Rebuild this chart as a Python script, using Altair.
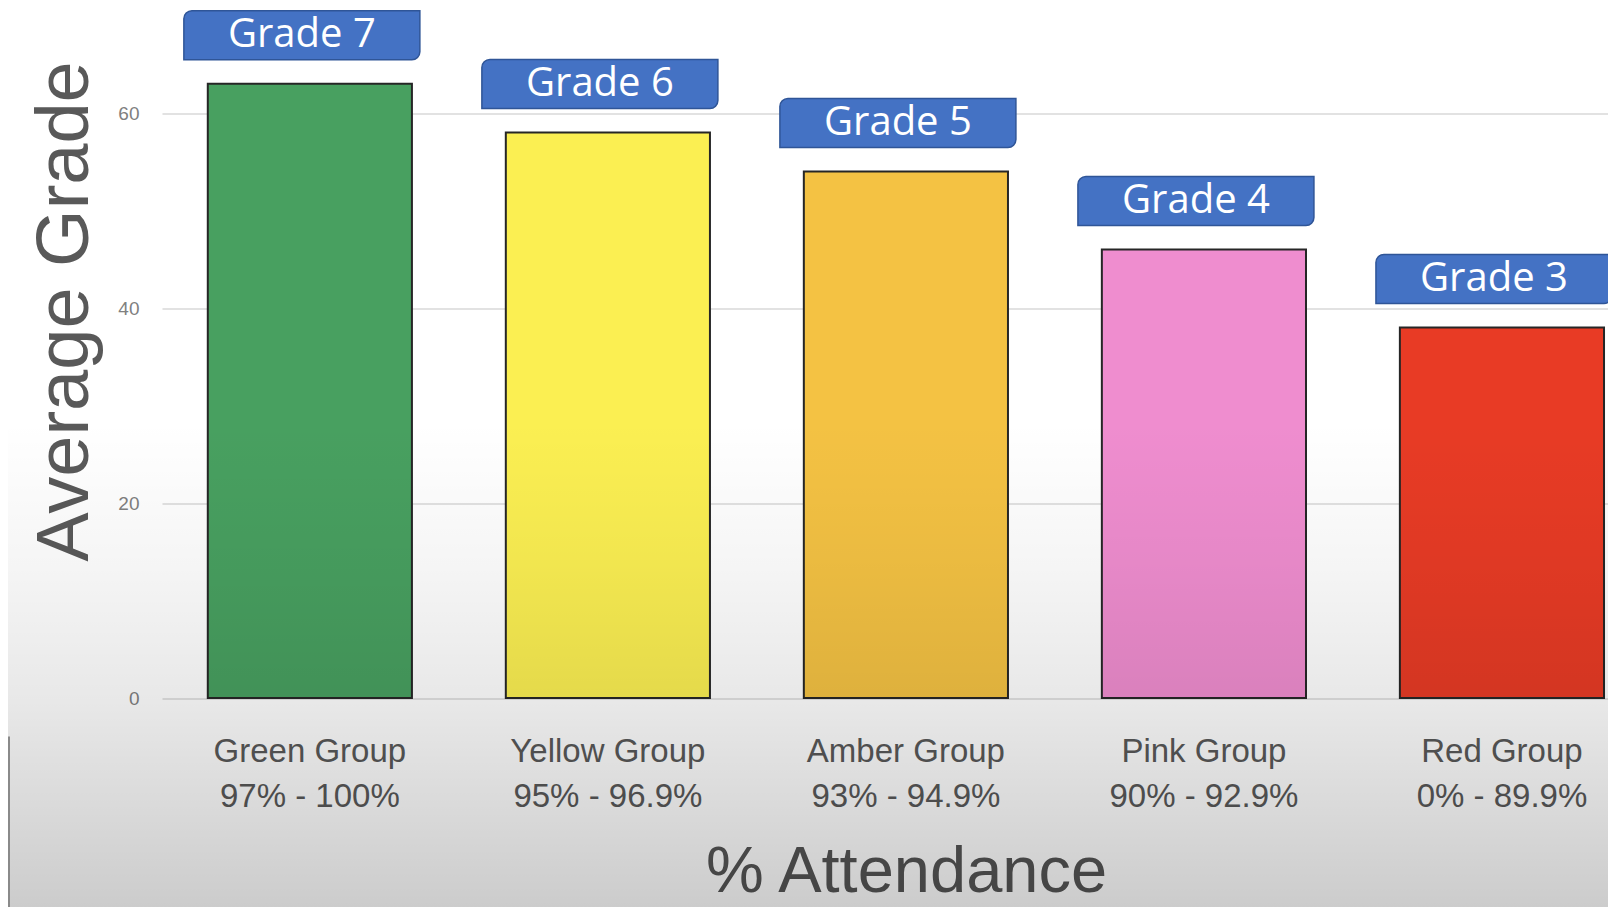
import altair as alt
import pandas as pd

groups = ["Green Group", "Yellow Group", "Amber Group", "Pink Group", "Red Group"]
ranges = ["97% - 100%", "95% - 96.9%", "93% - 94.9%", "90% - 92.9%", "0% - 89.9%"]
avg_grade = [63, 58, 54, 46, 38]
grade_labels = ["Grade 7", "Grade 6", "Grade 5", "Grade 4", "Grade 3"]
bar_colors = ["#48A060", "#FBEF52", "#F4C243", "#EF8DCF", "#E83B25"]
y_ticks = [0, 20, 40, 60]

cats = [g + "\n" + r for g, r in zip(groups, ranges)]
df = pd.DataFrame({"cat": cats, "value": avg_grade, "grade": grade_labels})

SANS = "Liberation Sans, Arial, sans-serif"
W, H = 1446, 682.5

x_enc = alt.X(
    "cat:N",
    sort=cats,
    scale=alt.Scale(paddingInner=0.315, paddingOuter=0.0835, align=0.92),
    axis=alt.Axis(
        title="% Attendance",
        labelAngle=0,
        labelExpr="split(datum.label, '\\n')",
        labelFont=SANS,
        labelFontSize=33,
        labelColor="#595959",
        labelLineHeight=45,
        labelBaseline="alphabetic",
        labelPadding=63,
        labelLimit=0,
        labelOverlap=False,
        ticks=False,
        tickSize=0,
        domain=False,
        grid=False,
        titleFont=SANS,
        titleFontSize=65,
        titleFontWeight="normal",
        titleColor="#555555",
        titleX=744,
        titleY=193,
        titleAlign="center",
        titleBaseline="alphabetic",
    ),
)
y_scale = alt.Scale(domain=[0, 70], nice=False)
y_enc = alt.Y(
    "value:Q",
    scale=y_scale,
    axis=alt.Axis(
        title="Average Grade",
        values=y_ticks,
        labelFont=SANS,
        labelFontSize=19,
        labelColor="#808080",
        labelPadding=23,
        ticks=False,
        tickSize=0,
        domain=False,
        grid=True,
        gridColor="#e2e2e2",
        gridWidth=2,
        titleFont=SANS,
        titleFontSize=74,
        titleFontWeight="normal",
        titleColor="#595959",
        titleX=-75,
        titleY=295.5,
        titleAngle=-90,
        titleAlign="center",
        titleBaseline="alphabetic",
    ),
)

base = alt.Chart(df)

bars = base.mark_bar(stroke="#262626", strokeWidth=2).encode(
    x=x_enc,
    y=y_enc,
    color=alt.Color("cat:N", sort=cats, scale=alt.Scale(domain=cats, range=bar_colors), legend=None),
)

boxes = base.mark_bar(
    width=236, xOffset=-8, yOffset=-73, y2Offset=-24,
    fill="#4472C4", stroke="#2F5597", strokeWidth=1.5,
    cornerRadiusTopLeft=8, cornerRadiusBottomRight=8,
).encode(
    x=alt.X("cat:N", sort=cats),
    y=alt.Y("value:Q", scale=y_scale),
    y2=alt.Y2("value:Q"),
)

labels = base.mark_text(
    xOffset=-8, yOffset=-37, baseline="alphabetic", align="center",
    font="Open Sans", fontSize=40, color="white",
).encode(
    x=alt.X("cat:N", sort=cats),
    y=alt.Y("value:Q", scale=y_scale),
    text="grade:N",
)

one = pd.DataFrame({"k": [0]})
overlay = alt.Chart(one).mark_rect(
    fill=alt.LinearGradient(
        gradient="linear",
        stops=[
            alt.GradientStop(offset=0, color="rgba(0,0,0,0)"),
            alt.GradientStop(offset=0.46, color="rgba(0,0,0,0)"),
            alt.GradientStop(offset=0.62, color="rgba(0,0,0,0.04)"),
            alt.GradientStop(offset=0.77, color="rgba(0,0,0,0.09)"),
            alt.GradientStop(offset=1, color="rgba(0,0,0,0.2)"),
        ],
        x1=0, x2=0, y1=0, y2=1,
    )
).encode(
    x=alt.value(-154), x2=alt.value(W), y=alt.value(-7.5), y2=alt.value(891.5)
)

edge = alt.Chart(one).mark_rule(color="#8a8a8a", strokeWidth=2).encode(
    x=alt.value(-153), y=alt.value(721), y2=alt.value(891.5)
)

chart = alt.layer(bars, boxes, labels, overlay, edge).properties(
    width=W,
    height=H,
    autosize=alt.AutoSizeParams(type="none"),
    padding={"left": 154, "top": 7.5, "right": 0, "bottom": 209},
    background="white",
).configure_view(stroke=None)

chart.save("out.html", embed_options={"renderer": "svg", "actions": False})
